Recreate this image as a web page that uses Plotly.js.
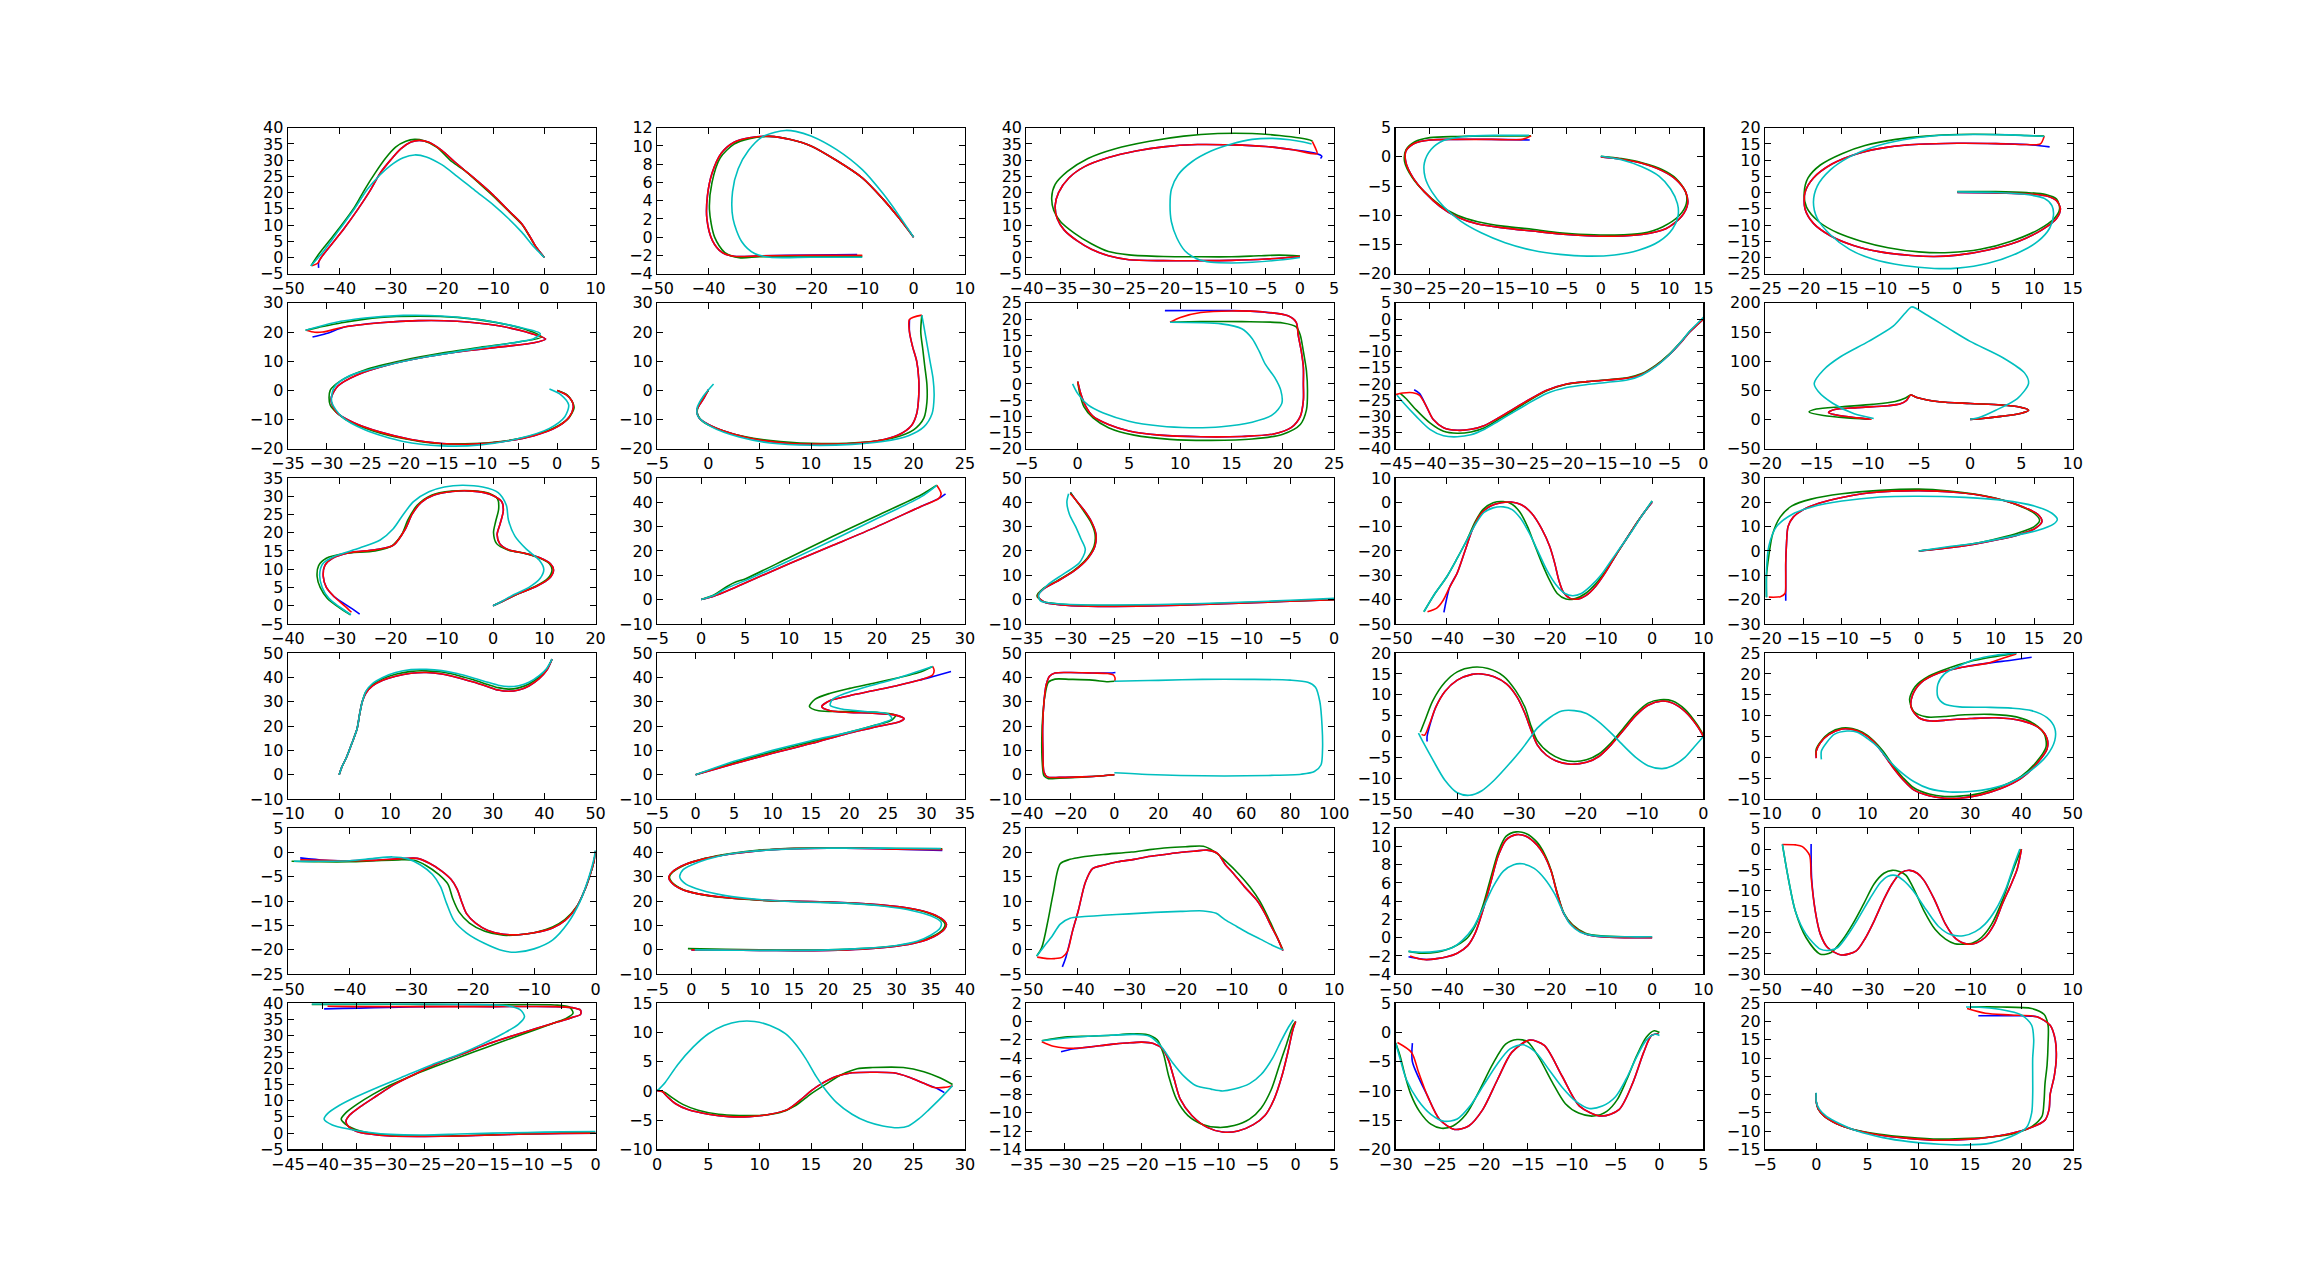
<!DOCTYPE html>
<html><head><meta charset="utf-8">
<script src="https://cdn.plot.ly/plotly-3.0.1.min.js"></script>
<style>html,body{margin:0;padding:0;background:#fff}#chart{width:2303px;height:1277px}</style>
</head><body><div id="chart"></div>
<script>
// ---- axis settings per panel (row-major, 6 rows x 5 cols) ----
const xRanges = [[-50,10],[-50,10],[-40,5],[-30,15],[-25,15],
                 [-35,5],[-5,25],[-5,25],[-45,0],[-20,10],
                 [-40,20],[-5,30],[-35,0],[-50,10],[-20,20],
                 [-10,50],[-5,35],[-40,100],[-50,0],[-10,50],
                 [-50,0],[-5,40],[-50,10],[-50,10],[-50,10],
                 [-45,0],[0,30],[-35,5],[-30,5],[-5,25]];
const yRanges = [[-5,40],[-4,12],[-5,40],[-20,5],[-25,20],
                 [-20,30],[-20,30],[-20,25],[-40,5],[-50,200],
                 [-5,35],[-10,50],[-10,50],[-50,10],[-30,30],
                 [-10,50],[-10,50],[-10,50],[-15,20],[-10,25],
                 [-25,5],[-10,50],[-5,25],[-4,12],[-30,5],
                 [-5,40],[-10,15],[-14,2],[-20,5],[-15,25]];
const xDticks = [10,10,5,5,5, 5,5,5,5,5, 10,5,5,10,5, 10,5,20,10,10, 10,5,10,10,10, 5,5,5,5,5];
const yDticks = [5,2,5,5,5, 10,10,5,5,50, 5,10,10,10,10, 10,10,10,5,5, 5,10,5,2,5, 5,5,2,5,5];

// ---- series: b = blue, g = green, r = red, c = cyan ; points [x, y] ----
const p01r = [[-45.3,-2.6],[-44.2,-1.8],[-43.5,0],[-41.5,4],[-39,9],[-36.5,14.5],[-34,20.5],[-32,26],[-30,30],[-28,33.5],[-26,35.6],[-24.4,36.1],[-22.5,35.5],[-20,33],[-17.5,29.5],[-15.5,26.8],[-13,23.5],[-10,19.3],[-7,14.5],[-4.4,10.4],[-3,7],[-1.6,3.2],[0,0]];
const p01b = [[-44,-3.2],[-44,-1.5],[-43.5,0], ...p01r.slice(3)];
const p01g = [[-45.5,-2.6],[-44,1],[-42,5],[-40,9],[-37,15.5],[-35,21],[-33,26],[-31,30.5],[-29,34],[-27,35.8],[-25.3,36.4],[-23.5,36],[-21,34],[-18,29.5],[-15.5,26.8],[-13,23.3],[-10,19],[-7,14.3],[-4.4,10.2],[-3,6.8],[-1.6,3.1],[0,0]];
const p01c = [[-45.5,-2.6],[-43,2],[-40,8.5],[-37,15],[-34.5,21],[-32,25.5],[-30,28.3],[-27.5,30.7],[-25.3,31.6],[-23,31],[-20,28.6],[-17,25],[-13.5,20.6],[-10,16.3],[-7,12],[-4.4,7.8],[-2,3.2],[0,0]];

const p02r = [[-10,-2.0],[-20,-2.0],[-30,-2.05],[-35,-2.1],[-37.3,-1.7],[-39.2,-0.4],[-40.3,2],[-40.2,4.5],[-39.3,7],[-37.5,9.2],[-35,10.4],[-32,10.9],[-28,11.05],[-24,10.7],[-20,10.0],[-15,8.4],[-10,6.5],[-6,4.2],[-3,2.2],[0,0]];
const p02b = [[-11,-1.9],[-20,-1.95], ...p02r.slice(2)];
const p02g = [[-10,-2.1],[-20,-2.1],[-30,-2.15],[-34,-2.25],[-36.8,-1.7],[-38.8,0],[-39.8,3],[-39.3,6],[-37.7,8.7],[-35,10.2],[-32,10.8],[-28,11.05],[-24,10.7],[-20,10.0],[-15,8.4],[-10,6.5],[-6,4.2],[-3,2.2],[0,0]];
const p02c = [[-10,-2.2],[-20,-2.2],[-28,-2.2],[-31,-1.8],[-33.5,-0.5],[-35.2,2],[-35.3,5],[-34.2,7.5],[-32.2,9.5],[-29.5,11],[-27,11.5],[-25,11.7],[-23,11.6],[-20,11.1],[-15,9.6],[-10,7.4],[-6,4.8],[-3,2.5],[0,0]];

const p03r = [[0,0.3],[-5,-0.5],[-10,-0.9],[-15,-1.0],[-20,-1.0],[-25,-0.7],[-28,0.5],[-30.5,2.5],[-32.5,5],[-34.5,8.5],[-35.5,12],[-35.8,16],[-35.3,20],[-33.8,24.5],[-31.5,28],[-28,30.8],[-24,32.8],[-20,34.1],[-15,34.8],[-10,34.7],[-5,34.2],[-1,33.2],[2.5,32],[2.2,34],[1.8,35.8]];
const p03b = [...p03r.slice(0,22),[2.5,32],[3.2,31.2],[3.0,30.5]];
const p03g = [[0,0.4],[-3,0.7],[-6,0.5],[-10,0.2],[-15,0.2],[-20,0.3],[-25,0.8],[-28,1.8],[-30.5,4.2],[-33,7.5],[-35,11],[-36,14.5],[-36.3,18.5],[-35.8,22.5],[-34,26.5],[-31,30.5],[-27,33.5],[-22,35.8],[-17,37.4],[-12,38.2],[-7,38.2],[-3,37.6],[0,36.8],[1.7,36],[1.8,35.8]];
const p03c = [[0,0],[-3,-0.8],[-7,-1.5],[-10,-1.7],[-13,-1.5],[-15,-0.5],[-16.8,2],[-18,6],[-18.8,11],[-19,16],[-18.8,21],[-17.8,25.5],[-15.8,29.5],[-13,32.8],[-10,35],[-7,36.4],[-4,36.7],[-1.5,36.3],[0.5,35.6],[1.7,35]];

const p04r = [[0,0],[3,-0.4],[6,-1.1],[9,-2.4],[11,-3.9],[12.4,-6],[12.7,-8],[11.8,-10.2],[9.5,-12.3],[6,-13.3],[2,-13.6],[-2,-13.5],[-6,-13.2],[-10,-12.7],[-14,-12.2],[-18,-11.5],[-21,-10.3],[-23.5,-8.5],[-25.8,-6],[-27.5,-3.5],[-28.5,-1],[-28.5,1],[-27.3,2.3],[-25,2.9],[-21,3.0],[-16,3.0],[-11.5,3.0],[-10.2,3.6]];
const p04b = [...p04r.slice(0,26),[-10.4,2.9]];
const p04g = [[0,0.1],[3,-0.3],[6,-1],[9,-2.2],[11,-3.7],[12.4,-6],[12.5,-8],[11.5,-10],[9,-12],[6,-13.1],[2,-13.4],[-2,-13.3],[-6,-13],[-10,-12.4],[-14,-11.9],[-18,-11.1],[-21,-10],[-23.5,-8.3],[-25.8,-6],[-27.6,-3.5],[-28.7,-0.8],[-28.5,1.2],[-27.2,2.6],[-25,3.3],[-21,3.5],[-16,3.6],[-12,3.6],[-10.2,3.6]];
const p04c = [[0,0.1],[3,-0.5],[6,-1.7],[8.5,-3.3],[10.2,-5.5],[11.2,-8],[11.3,-10],[10.5,-12.3],[8.5,-14.5],[5.5,-16],[2,-16.8],[-2,-17],[-6,-16.7],[-10,-16],[-14,-14.7],[-17.5,-13],[-20.5,-11],[-23,-8.5],[-24.7,-6],[-25.7,-3.5],[-25.8,-1],[-24.8,1.3],[-23,2.8],[-20,3.5],[-15,3.7],[-10.5,3.7]];

const p05r = [[0,0],[5,-0.1],[9,-0.4],[11.5,-1],[12.9,-2.5],[13.4,-5],[12.9,-8],[11,-11.5],[8,-15],[4,-17.7],[0,-19.3],[-3,-19.7],[-6,-19.4],[-10,-18.3],[-13.5,-16.3],[-16.5,-13.3],[-18.7,-9.5],[-19.8,-5],[-19.8,0],[-18.7,4.5],[-16.3,8.8],[-13,12],[-9,14],[-5,14.9],[0,15.2],[5,15.1],[9,14.8],[10.8,15],[11.3,17.4]];
const p05b = [...p05r.slice(0,27),[12,14.1]];
const p05g = [[0,0.3],[5,0.3],[9,0],[11.5,-0.6],[12.9,-2],[13.3,-5],[12.6,-8],[10.5,-11.5],[7,-15],[3,-17.5],[-1,-18.5],[-5,-18.3],[-9,-17],[-12.5,-15],[-15.5,-12.5],[-18,-9],[-19.6,-4.5],[-19.9,0],[-19.4,4.5],[-17.8,8.5],[-15,12],[-12,14.5],[-8,16.4],[-4,17.4],[0,17.9],[5,17.9],[9,17.6],[11.3,17.4]];
const p05c = [[0,0.2],[5,0],[9,-0.6],[11.3,-1.8],[12.3,-4],[12.5,-7],[12,-11],[10.5,-15],[8,-18.5],[4,-21.8],[0,-23.3],[-3,-23.4],[-7,-22.5],[-11,-20.5],[-14,-17.5],[-16.5,-13],[-18.2,-8],[-18.7,-3],[-18.2,2],[-16.5,7],[-14,11],[-11,14],[-7,16.3],[-3,17.5],[2,17.9],[7,17.8],[11.3,17.3]];

const p06r = [[0,0],[1.2,-1.5],[1.9,-3.5],[2.1,-5.8],[1.6,-9],[0,-12.5],[-3,-15.5],[-7,-17.5],[-11,-18.4],[-15,-18.2],[-19,-16.8],[-23,-14.3],[-26.5,-11],[-28.7,-7.5],[-29.4,-3],[-28.5,1.5],[-26,5.3],[-22,8.7],[-17,11.5],[-12,13.5],[-7,15],[-3,16.3],[-1.5,17.6],[-4,20],[-8,22.3],[-13,23.7],[-18,23.9],[-23,23.2],[-27.5,21.8],[-30.5,20],[-31.5,19.9],[-32.6,20.6]];
const p06b = [...p06r.slice(0,29),[-30,19.5],[-31.8,18.3]];
const p06g = [[0,0],[1.3,-1.5],[2,-4],[2.2,-6],[1.5,-9.5],[-0.5,-13],[-4,-16],[-8,-17.7],[-12,-18.3],[-16,-18.1],[-20,-16.5],[-24,-13.8],[-27.5,-10],[-29.5,-5],[-29.5,0],[-28,3.5],[-25,7],[-20,10.3],[-15,12.8],[-10,14.8],[-5,16.6],[-2,18.3],[-4,20.8],[-8,23.3],[-13,25],[-18,25.4],[-23,25],[-28,23.2],[-31,21.6],[-32.7,20.6]];
const p06c = [[-1,0.5],[0.5,-1.5],[1.5,-5],[1,-9],[-1,-13],[-5,-16.5],[-10,-18.7],[-15,-19],[-20,-17.5],[-25,-13.5],[-28,-9],[-29.3,-4],[-29,1],[-27,5],[-22,8.7],[-17,11.5],[-12,13.7],[-7,15.8],[-3,17.8],[-2.2,19.5],[-5,21.7],[-10,24.2],[-15,25.5],[-20,25.7],[-25,24.8],[-29,23.2],[-32.7,20.6]];

const p07r = [[0,0.3],[-0.5,-3],[-1.1,-6.5],[-0.9,-9.5],[0.5,-12.5],[2.5,-15],[5,-17],[8,-18.2],[11,-18.4],[14,-18.2],[16.5,-17.3],[18.5,-15.3],[19.8,-12],[20.3,-8],[20.5,-2],[20.5,4],[20.3,10],[19.9,15],[19.6,20],[19.6,24.3],[20.8,25.8]];
const p07b = p07r.slice(0,20);
const p07g = [[0,0],[-0.8,-4],[-1.1,-7.5],[-0.6,-10.5],[1,-13.3],[3.5,-15.8],[7,-17.5],[11,-18.2],[15,-17.8],[18,-16.3],[20,-13.5],[21,-9.5],[21.3,-4],[21.3,2],[21.1,8],[20.9,14],[20.7,20],[20.8,25.8]];
const p07c = [[0.5,2.2],[-0.5,-2],[-1.1,-6],[-1,-9],[0.3,-12.5],[3,-16],[6,-18],[10,-18.8],[14,-18.5],[17,-17.5],[19.5,-15.5],[21,-12.5],[21.8,-8],[22,-2],[21.9,4],[21.6,10],[21.3,16],[21,22],[20.8,25.8]];

const p08r = [[0,0.7],[0.3,-3],[0.8,-7],[1.5,-10],[3,-12.5],[5,-14.5],[8,-15.8],[12,-16.3],[16,-16.2],[19,-15.5],[20.8,-13.5],[21.7,-10],[22,-5],[22,0],[22,5],[21.8,10],[21.5,15],[21.3,19],[20.5,21],[18,22.2],[15,22.5],[12,22],[10,20.5],[9,19]];
const p08b = [...p08r.slice(0,20),[15,22.6],[8.5,22.6]];
const p08g = [[0,0.7],[0.2,-3],[0.6,-7],[1.5,-10.5],[3,-13.5],[5.5,-15.8],[9,-17.1],[13,-17.4],[17,-17],[20,-15.5],[21.7,-12.5],[22.3,-8],[22.4,-2],[22.3,4],[22,10],[21.7,15],[21.3,17.6],[20,18.8],[16,19.2],[12,19.2],[9,19]];
const p08c = [[-0.5,0],[0,-3],[1,-6.5],[2.5,-9],[5,-11.5],[8,-13],[11,-13.5],[14,-13.2],[17,-11.8],[19,-9.5],[19.9,-6],[19.8,-2],[19.2,2],[18.3,6],[17.7,10],[17,14],[16,17],[14,18.5],[9,19]];

const p09r = [[0,0],[-1,-2],[-2,-4],[-3,-6.5],[-5,-11],[-7,-14.5],[-9,-17],[-11,-18.2],[-14,-18.8],[-17,-19.3],[-20,-20],[-23,-22],[-26,-25.5],[-28,-28],[-30,-30.5],[-32,-32.8],[-34,-34],[-36,-34.3],[-38,-33.5],[-39.5,-31],[-40.5,-27],[-41.5,-23.5],[-42.5,-22.7],[-44,-22.8],[-45,-23.3]];
const p09b = [...p09r.slice(0,21),[-41.5,-23],[-42.3,-21.8]];
const p09g = [[0,0.2],[-1,-1.8],[-2,-3.8],[-3,-6.3],[-5,-10.8],[-7,-14.3],[-9,-16.8],[-11,-18],[-14,-18.7],[-17,-19.3],[-20,-20.1],[-23,-22.2],[-26,-25.8],[-28,-28.5],[-30,-31],[-32,-33.5],[-34,-34.8],[-36,-35.2],[-38,-34.6],[-40,-32],[-42,-28],[-43.5,-24.5],[-44.3,-23]];
const p09c = [[0,0.5],[-1,-1.6],[-2,-3.7],[-3,-6.3],[-5,-11],[-7,-14.7],[-9,-17.3],[-11,-18.7],[-14,-19.5],[-17,-20.2],[-20,-21.1],[-23,-23],[-26,-26.5],[-28,-29],[-30,-31.5],[-32,-34],[-34,-35.7],[-36,-36.3],[-38,-36],[-40,-34],[-42,-30],[-44,-25.5],[-44.8,-23.5]];

const p10r = [[-9.6,0.5],[-11,3],[-12.8,7],[-13.8,12],[-13.3,17],[-11,20.5],[-8,23.7],[-6.8,27],[-6.2,33],[-5.8,42],[-5.2,38],[-3,30.6],[0,27.5],[3,25],[4.8,21.5],[5.7,16],[5,11],[3,5.5],[1,1.5],[0,0.3]];
const p10b = [[-9.8,0.8], ...p10r.slice(1)];
const p10g = [[-10,1],[-12,3],[-14.3,7],[-15.7,13],[-15,18],[-12.5,22],[-9.5,26],[-7.3,31],[-6.3,37],[-5.8,42],[-5.2,38],[-3,30.6],[0,27.5],[3,25],[4.8,21.5],[5.7,16],[5,11],[3,5.5],[1,1.5],[0,0.3]];
const p10c = [[-9.4,2],[-11.3,10],[-13.4,28],[-14.8,48],[-15.2,62],[-14.3,85],[-12.6,108],[-9.9,134],[-7.5,160],[-6.3,183],[-5.7,193],[-4.3,180],[-2,155],[0,134],[3.2,106],[5.3,80],[5.7,62],[4.6,36],[2.5,16],[0.8,3],[0,0.5]];

const p11r = [[-27.6,-1.8],[-29,0],[-31,2.5],[-32.5,5],[-33.1,8],[-32.8,11],[-31.3,13],[-28,14.5],[-23,15.3],[-19.4,16.6],[-17.1,21],[-15.8,25],[-14,28.3],[-11.5,30.3],[-8,31.3],[-4,31.4],[-0.5,30.5],[1.7,28.5],[2,26],[1.4,22.5],[0.8,19.5],[1.3,17],[3,15.3],[6,14.4],[9,13.2],[11.2,11.5],[11.8,9.8],[11,7.5],[8.5,5.3],[5,3.3],[2,1.3],[0,0]];
const p11b = [[-26,-2.3],[-27.5,-0.8], ...p11r.slice(2)];
const p11g = [[-27.8,-2.5],[-30,-0.5],[-32.3,2],[-33.7,5],[-34.3,8],[-34,11],[-32.5,13],[-29,14.3],[-23,15],[-19.8,16.3],[-17.8,19.5],[-16.6,23.5],[-14.8,27.5],[-12,30.3],[-8,31.4],[-4,31.5],[-0.8,30.8],[0.9,29.2],[1.1,26.5],[0.5,23],[0.1,20],[0.7,17],[2.8,15.3],[6,14.4],[9,13.1],[11,11.5],[11.5,9.8],[10.7,7.5],[8.3,5.3],[5,3.3],[2,1.3],[0,0]];
const p11c = [[-27.7,-2.5],[-30,-0.3],[-32,2],[-33.3,5],[-33.8,8.5],[-33.2,11.5],[-31,13.5],[-26,15.8],[-22,18],[-19.5,21],[-17.5,25],[-15.5,28.5],[-12.5,31.2],[-9.5,32.5],[-6,33],[-2,32.5],[1,31],[2.6,27.5],[3,23.5],[4.3,19],[6.5,15.5],[9,12.5],[9.9,10],[9.2,7.5],[7,5],[4,3],[1.5,1],[0,0]];

const p12r = [[0,0],[1.5,1.5],[3,3.6],[5,6.8],[10,14.7],[15,22.3],[20,30],[25,38.3],[27,41.5],[27.3,43.5],[26.8,47]];
const p12b = [...p12r.slice(0,9),[27.8,43.5]];
const p12g = [[0,0],[1.5,2],[3,5.5],[4,7.3],[5,8.5],[10,17.2],[15,26],[20,34.5],[25,43],[26.8,47]];
const p12c = [[0,0],[1.5,1.8],[3,4.8],[5,7.8],[10,16],[15,24.5],[20,33.3],[25,42.2],[26.8,47]];

const p13r = [[-30,43.5],[-29.4,41],[-28.5,37],[-27.6,32],[-27.1,27],[-27.2,22],[-28,17],[-29.5,12],[-31.5,7.5],[-33,4.5],[-33.7,1.5],[-33,-1],[-31,-2.2],[-28,-2.7],[-25,-2.8],[-20,-2.5],[-15,-2],[-10,-1.4],[-5,-0.7],[0,0]];
const p13b = [[-30,44], ...p13r.slice(1)];
const p13g = [[-30,44],[-29.4,41],[-28.6,37],[-27.7,32],[-27.2,27],[-27.3,22],[-28.1,17],[-29.6,12],[-31.6,7.5],[-33.1,4.5],[-33.8,1.5],[-33.1,-0.8],[-31,-1.9],[-28,-2.4],[-25,-2.5],[-20,-2.3],[-15,-1.8],[-10,-1.2],[-5,-0.6],[0,0]];
const p13c = [[-30.2,43.5],[-30.4,40],[-30.1,35],[-29.4,30],[-28.8,25],[-28.3,20.5],[-29,15],[-30.8,10.5],[-32.6,6],[-33.6,2],[-33.4,-0.5],[-32,-1.5],[-28,-2.2],[-25,-2.2],[-20,-2],[-15,-1.6],[-10,-1],[-5,-0.3],[0,0.5]];

const p14r = [[-43.8,-45],[-42,-43.5],[-40.8,-40.5],[-39.5,-35],[-38,-29],[-36.5,-20],[-35,-11],[-33.5,-5],[-31.5,-1.5],[-29.5,-0.2],[-27.5,0.1],[-25.5,-1],[-23.5,-4.5],[-21.5,-11],[-20,-18],[-19,-25],[-18.2,-32],[-17.3,-37],[-16,-39.5],[-14.5,-39.8],[-13,-38.5],[-11,-34.5],[-9,-28.5],[-7,-21.5],[-5,-15],[-3,-8.5],[-1.5,-4],[0,0]];
const p14b = [[-40.6,-45.3],[-40.2,-41], ...p14r.slice(3)];
const p14g = [[-44.5,-45],[-42.5,-38],[-40,-30.5],[-38,-23],[-36,-15],[-34.5,-8],[-33,-3],[-31,-0.2],[-29,0.3],[-27.3,-0.8],[-25.8,-4],[-24.3,-10],[-23,-17],[-21.5,-25],[-20,-32],[-18.5,-37.5],[-16.8,-39.8],[-15,-39.6],[-13,-37.5],[-11,-33.5],[-9,-28],[-7,-21.5],[-5,-15],[-3,-8.5],[-1.5,-4],[0,0.5]];
const p14c = [[-44.5,-45],[-42.5,-38],[-40,-30.5],[-38,-23],[-36,-15],[-34.3,-8.5],[-32.8,-4.2],[-31,-2.3],[-29,-1.9],[-27.3,-3],[-25.7,-6.5],[-24,-12.5],[-22.3,-20],[-20.5,-28],[-18.7,-34],[-17,-37.5],[-15.5,-38.4],[-13.8,-37.5],[-12,-34.5],[-10,-30],[-8,-24],[-6,-18],[-4,-12],[-2,-5.5],[0,0.5]];

const p15r = [[0,0],[4,1.3],[7.2,2.8],[10.5,4.8],[12.8,6.5],[15,9],[16,12],[15.5,15],[14,17.5],[11.5,20.3],[9,22.3],[5,24],[0,24.8],[-6.6,23.8],[-10,22],[-13,19.6],[-15,17],[-16.3,14],[-17,10],[-17.2,3],[-17.3,-5],[-17.3,-12],[-17.4,-17.5],[-18,-18.8],[-19.5,-19]];
const p15b = [...p15r.slice(0,22),[-17.3,-20.5]];
const p15g = [[0,0],[4,1.5],[7.2,3],[10.5,5.3],[13,7.5],[15,10],[15.7,12.5],[15,15.5],[13.5,18],[11,20.8],[8,23],[4,24.6],[0,25.4],[-5,24.9],[-10,23.5],[-14,21.3],[-16.5,18.5],[-18,14],[-19,7],[-19.5,-2],[-19.8,-10],[-19.8,-19]];
const p15c = [[0,0],[4,1.8],[8,3.5],[12,6],[15.5,8.5],[17.5,11],[18,13],[17.3,15.5],[15,18.5],[11,20.8],[6,22],[0,22.5],[-5,22.2],[-10,20.5],[-14,18],[-16.5,15],[-18.5,10],[-19.5,2],[-19.8,-8],[-19.8,-19]];

const p16r = [[0,0],[0.5,3],[1.5,7.5],[2.5,13],[3.5,19],[4,25],[4.5,30],[5.2,33.5],[6.5,36.5],[8.5,38.8],[11,40.5],[14,41.7],[17,42],[20,41.4],[23,40],[26,38.2],[29,36.2],[31,34.8],[33,34.3],[35,34.8],[37,36.5],[39,39.5],[40.5,43],[41.5,47.5]];
const p16b = [...p16r];
const p16g = [[0,0],[0.5,3],[1.5,7.5],[2.5,13],[3.5,19],[4,25],[4.5,30],[5.2,34],[6.5,37],[8.5,39.5],[11,41.3],[14,42.5],[17,42.7],[20,42.2],[23,40.9],[26,39.1],[29,37.1],[31,35.8],[33,35.2],[35,35.7],[37,37.3],[39,40.2],[40.5,43.5],[41.5,47.5]];
const p16c = [[0,0],[0.5,3],[1.5,7.5],[2.5,13],[3.5,19],[4,25],[4.5,30],[5.2,34.3],[6.5,37.5],[8.5,40],[11,42],[14,43.2],[17,43.3],[20,42.8],[23,41.6],[26,39.9],[29,38],[31,36.8],[33,36.2],[35,36.6],[37,38],[39,40.7],[40.5,43.8],[41.5,47.5]];

const p17r = [[0,0],[5,4.5],[10,8.8],[15,12.8],[20,17.2],[24,20],[26.5,21.8],[27.1,23],[26,24.5],[23,25.3],[20,25.6],[17.5,26.3],[16.4,28],[17.5,30.5],[20,32.5],[23,34.5],[26,36.5],[29,38.8],[30.8,41],[31,43],[30.8,44.5]];
const p17b = [...p17r.slice(0,18),[31,40.5],[33.2,42.4]];
const p17g = [[0,0],[5,5],[10,9.5],[15,13.5],[20,17.5],[23.5,20.5],[25.5,22.5],[26,24.5],[24,25.5],[20,26],[16,26.3],[14.8,28],[15.5,31],[17.5,33.5],[20,35.5],[23,37.5],[26.5,40],[29,42],[30.8,44.5]];
const p17c = [[0,0],[5,5.5],[10,10],[15,14],[20,17.5],[23.5,20.5],[25.5,23],[25,25],[22,26],[19,27],[17.5,28.5],[17.8,31],[19.5,33.5],[22,36],[25,38.5],[28,41.5],[30.8,44.5]];

const p18r = [[0,0],[-5,-0.4],[-15,-0.9],[-25,-1.1],[-30.5,-0.9],[-32,1],[-32.5,10],[-32.6,20],[-32,30],[-31,37],[-29.5,40.5],[-27,41.8],[-20,42],[-10,41.8],[-3,41.6],[-0.5,41],[0.3,39.8],[0.2,38.4]];
const p18b = [...p18r.slice(0,14),[-1,41.8],[0.5,42]];
const p18g = [[0,0],[-5,-0.4],[-15,-1.0],[-25,-1.4],[-30,-1.6],[-32,-0.5],[-32.8,5],[-33,15],[-32.5,25],[-31.5,33],[-30,38],[-27,39.3],[-20,39.2],[-10,38.9],[-3,38.2],[0,38.4]];
const p18c = [[0,38.4],[10,38.6],[20,38.8],[40,39.2],[60,39.2],[80,38.9],[88,38],[91.5,36],[93.5,30],[94.5,20],[94.7,10],[94,4],[91,1.3],[85,0.2],[70,-0.3],[50,-0.5],[30,-0.3],[15,0.1],[0,0.8]];

const p19r = [[0,0],[-1,2.5],[-3,6],[-5,8],[-6.7,8.5],[-9,7.5],[-11,5],[-13,1.5],[-15,-2],[-17,-4.8],[-19,-6.2],[-21.9,-6.6],[-24,-5.8],[-25.5,-4.5],[-27,-2],[-28,1.5],[-29,5.5],[-30.3,9.5],[-32,12.6],[-34,14.3],[-36,15],[-37.6,14.9],[-40,13.5],[-42,10.8],[-43.5,7],[-44.5,3],[-45.3,0.3],[-45.8,0.5]];
const p19b = [...p19r.slice(0,25),[-44.4,3],[-44.9,0],[-44.9,-1.2]];
const p19g = [[0,0.3],[-1,2.8],[-3,6.5],[-5,8.5],[-7,8.8],[-9,8],[-11,5.5],[-13,2],[-15,-1.5],[-17,-4.2],[-19,-5.6],[-21,-6],[-23,-5.5],[-25,-4],[-27,-1],[-28,2.5],[-29,7],[-30.5,11],[-32.5,14.5],[-35,16.3],[-37.5,16.6],[-40,15.5],[-42,13],[-44,8.5],[-45.2,4],[-46,1]];
const p19c = [[0,0],[-1.5,-2.5],[-3,-5],[-5,-7],[-6.7,-7.7],[-9,-7],[-11,-5],[-13,-2.2],[-15,0.8],[-17,3.5],[-19,5.5],[-21,6.2],[-23,6.1],[-25,4.5],[-27,2],[-28,0],[-29.5,-3],[-31.5,-6.5],[-34,-10.5],[-36,-13],[-38,-14.1],[-40,-13.5],[-42,-10.5],[-44,-5.5],[-45.5,-1.5],[-46.3,0.8]];

const p20r = [[0,-0.2],[0,1.5],[0.8,3.5],[2.5,5.5],[5,6.8],[7,6.7],[9,5.8],[11,4],[13,1],[15,-2.5],[17,-5.5],[19,-7.8],[22,-9.2],[25,-9.8],[28,-9.8],[32,-9],[36,-7.5],[40,-5],[43,-1.5],[45,2],[45,4.5],[43.5,7],[40,8.8],[35,9.5],[30,9.3],[26,9],[22.5,8.7],[20,9.5],[18.5,12],[18.8,15],[20.5,18],[24,20.3],[28,21.5],[33.5,22.6],[37,24],[39,24.8]];
const p20b = [...p20r.slice(0,34),[38,23.3],[42,24]];
const p20g = [[0,0.5],[0,2],[1,4],[2.5,5.8],[5,7],[7,6.9],[9,6],[11,4.2],[13,1.5],[15,-2],[17,-5],[19,-7.3],[22,-8.8],[25,-9.4],[28,-9.3],[32,-8.6],[36,-7],[40,-4.5],[43,-1],[44.8,2.5],[44.5,5.5],[42.5,8],[39,9.7],[34,10.3],[29,10.2],[25,9.8],[21.5,9.7],[19,11],[18.2,14],[19.3,17],[22,19.5],[26,21.5],[30,23],[34,24],[39,25]];
const p20c = [[1,-0.5],[1,1.5],[2,3.5],[3.5,5.5],[6,6.3],[8,6],[10,4.5],[12,2.5],[14,-0.5],[16,-3],[19,-5.8],[22,-7.5],[26,-8.3],[30,-8.2],[34,-7.5],[38,-6],[42,-3],[45,0.5],[46.5,4],[46.5,7],[45,9.5],[42,11.2],[38,11.8],[33,12],[28,12.1],[25,12.8],[23.7,14.5],[23.7,17.5],[25,20],[28,22],[31,23.5],[35,24.5],[39,25]];

const p21r = [[-48,-1.5],[-44,-1.6],[-40,-1.7],[-36,-1.6],[-32,-1.3],[-29,-1.2],[-27,-2.2],[-25,-3.8],[-23.5,-5.5],[-22.5,-7.5],[-21.8,-10],[-21,-12.5],[-19.5,-14.5],[-17.5,-16],[-15,-16.8],[-12.5,-16.9],[-10,-16.5],[-7,-15.5],[-5,-14],[-3,-11],[-1.8,-7.8],[-1,-5],[-0.3,-2],[0,0.3]];
const p21b = [[-48,-1.1], ...p21r.slice(1)];
const p21g = [[-49.4,-1.8],[-45,-1.9],[-40,-1.9],[-36,-1.7],[-32,-1.5],[-29.5,-1.6],[-27.5,-2.7],[-25.5,-4.5],[-24,-6.5],[-23.2,-9.5],[-22.2,-12.2],[-20.5,-14.5],[-18,-16.2],[-15,-17],[-12.5,-16.9],[-10,-16.5],[-7,-15.3],[-5,-13.8],[-3,-11],[-1.8,-7.8],[-1,-5],[-0.3,-2],[0,0.3]];
const p21c = [[-49,-1.8],[-45,-1.8],[-40,-1.7],[-36,-1.2],[-33,-0.9],[-30.5,-1.3],[-28.5,-2.5],[-26.5,-4.5],[-25.2,-7],[-24.2,-10.5],[-23,-14],[-21,-16.5],[-18,-18.7],[-15,-20.2],[-13,-20.5],[-10,-19.8],[-7,-18],[-4.5,-14.5],[-2.5,-10],[-1.2,-5.5],[-0.4,-2],[0,0.5]];

const p22r = [[0,0],[5,0],[10,-0.2],[15,-0.3],[20,-0.2],[25,0.3],[30,1.5],[33,3],[35.5,5.5],[37,8.5],[37.3,10.5],[36.5,13],[34.5,15.5],[31,17.5],[26,18.8],[20,19.6],[15,20],[10,20.5],[5,21.5],[1,23],[-1.5,25],[-3,28],[-3.3,30],[-2.8,32],[-1,35],[2,37.5],[6,39.5],[10,40.8],[15,41.6],[20,41.8],[25,41.7],[30,41.4],[36.7,41.2]];
const p22b = [...p22r.slice(0,32),[36.7,40.9]];
const p22g = [[-0.5,0.5],[5,0.2],[10,0],[15,-0.1],[20,0],[25,0.5],[30,1.7],[33,3.2],[35.3,5.6],[36.8,8.5],[37.1,10.5],[36.3,13],[34.3,15.5],[30.8,17.4],[25.8,18.7],[20,19.5],[15,19.9],[10,20.4],[5,21.4],[1,23],[-1.4,25],[-2.9,28],[-3.2,30],[-2.7,32],[-0.9,35],[2,37.6],[6,39.7],[10,41],[15,41.8],[20,42],[25,41.9],[30,41.6],[36.7,41.5]];
const p22c = [[0.5,0],[5,-0.1],[10,-0.2],[15,-0.2],[20,0],[25,0.6],[30,1.8],[33,3.5],[35,6],[36.4,9],[36.5,11.5],[35,14],[32.5,16],[28,18],[22,19.3],[16,19.7],[10,20.7],[5,22.3],[1.5,24.5],[-0.8,27],[-1.7,30],[-1.2,33],[1,36],[4,38.5],[8,40.3],[13,41.3],[18,41.8],[25,41.8],[30,41.8],[36.5,41.6]];

const p23r = [[-47.9,-1.5],[-46,-1.8],[-44.5,-1.8],[-43,-1.5],[-42,-0.3],[-41,3.9],[-39.9,8],[-38.5,13.9],[-37.1,16.7],[-35,17.4],[-32.2,18.1],[-29,18.6],[-26.6,19.1],[-23,19.6],[-21,19.9],[-17,20.3],[-14.8,20.5],[-12.7,19.8],[-11.2,17.5],[-9.9,16],[-7.5,13],[-5,10.1],[-3.5,7.5],[-2.3,4.9],[-1,2.3],[0,-0.2]];
const p23b = [[-43,-3.5],[-42.3,-1.5], ...p23r.slice(5)];
const p23g = [[-48,-1.3],[-47,0.5],[-45.8,6],[-44.8,11.5],[-43.4,17.7],[-41.5,18.6],[-39.2,19.1],[-35,19.6],[-29.5,20.1],[-26,20.6],[-22.5,21],[-19,21.2],[-15.5,21.3],[-13.5,20.3],[-11.3,18.4],[-8.5,15.5],[-6.4,12.9],[-4.5,10],[-2.9,6.7],[-1.5,3.5],[0,0]];
const p23c = [[-48,-1.3],[-46.5,0.8],[-45,2.8],[-43.4,5.3],[-41.5,6.5],[-39.2,6.8],[-35,7.1],[-30,7.4],[-25,7.7],[-20,7.9],[-15.5,8],[-13,7.5],[-11.3,6.2],[-9,4.8],[-6.5,3.3],[-4.4,2.2],[-2,0.9],[0,0]];

const p24r = [[-47.2,-2],[-45.5,-2.3],[-44,-2.4],[-42,-2.3],[-40,-2.1],[-38,-1.7],[-36,-0.9],[-34.5,0.5],[-33,3],[-31.5,6],[-30,9],[-28.5,10.7],[-26.5,11.3],[-24.5,11.1],[-22.5,10.2],[-21,9],[-19.7,7.3],[-18.5,4.8],[-17.2,2.6],[-15.5,1.3],[-13,0.4],[-10,0.1],[-5,0],[0,0]];
const p24b = [[-47.5,-2.1], ...p24r.slice(1)];
const p24g = [[-47.5,-1.5],[-45,-1.7],[-42,-1.6],[-40,-1.3],[-38,-0.8],[-36,0],[-34.5,1.3],[-33,3.5],[-31.5,6.5],[-30,9.4],[-28.5,11.1],[-26.5,11.6],[-24.5,11.4],[-22.5,10.5],[-21,9.2],[-19.7,7.4],[-18.5,4.9],[-17.2,2.7],[-15.5,1.4],[-13,0.5],[-10,0.2],[-5,0.1],[0,0.1]];
const p24c = [[-47.5,-1.5],[-45,-1.6],[-42,-1.5],[-39,-1.1],[-37,-0.3],[-35,1],[-33,3.2],[-31,5.6],[-29,7.3],[-27,8],[-25.3,8.1],[-23,7.6],[-21,6.5],[-19,4.8],[-17.5,3],[-16,1.5],[-14,0.6],[-11,0.2],[-5,0.1],[0,0.1]];

const p25r = [[-46.6,1.1],[-44,1],[-42.7,0.6],[-41.3,-1.5],[-41,-6.7],[-40.2,-14.8],[-39.2,-20.4],[-37.8,-23.6],[-35.1,-25.4],[-32.2,-24.4],[-30.5,-21.5],[-28.7,-17.2],[-26.8,-12],[-25.2,-8.3],[-23.5,-5.7],[-21.8,-5.1],[-20.3,-5.8],[-19,-7.5],[-17,-12],[-14.8,-18],[-12.8,-21.5],[-10.6,-22.8],[-8.8,-22.5],[-7.1,-21.2],[-5.3,-18],[-3.7,-13.1],[-2.2,-9],[-0.9,-5.1],[-0.3,-2],[0,0]];
const p25b = [[-41,1.2],[-41,-2],[-40.9,-7], ...p25r.slice(5)];
const p25g = [[-46.6,1.1],[-45.5,-6.7],[-44.1,-14.8],[-42,-21.2],[-39.2,-25.2],[-37.1,-24.8],[-35,-22],[-32.9,-18],[-30.7,-13],[-28.7,-8.3],[-26.8,-5.8],[-25.2,-5.1],[-23.8,-5.4],[-22.5,-6.3],[-20.8,-10],[-19,-14.8],[-16.8,-19.3],[-14.8,-21.6],[-13,-22.7],[-11.3,-22.8],[-9.5,-22.5],[-7.8,-21.2],[-5.8,-18],[-3.7,-12.3],[-2.2,-7],[-0.9,-2.7],[0,0]];
const p25c = [[-46.6,1.1],[-45.5,-6.7],[-44.1,-14.8],[-42,-20.4],[-39.2,-24],[-37.5,-24.3],[-35.8,-23.6],[-33.8,-20.5],[-31.7,-16.4],[-29.5,-11.8],[-27.4,-7.9],[-26,-6.5],[-24.6,-6.3],[-23,-7.5],[-21.1,-10],[-18.6,-14.5],[-16.2,-18.5],[-13.8,-20.5],[-11.3,-20.8],[-9,-19.8],[-7.1,-18],[-5,-14.5],[-2.9,-9.1],[-1.5,-4],[-0.3,0]];

const p26r = [[0,0],[-5,-0.1],[-10,-0.3],[-15,-0.6],[-20,-0.9],[-25,-1],[-30,-0.9],[-33,-0.3],[-35,0.6],[-36.2,2.2],[-36.5,3.7],[-36,5.5],[-34.5,8],[-32,11.5],[-29.6,14.8],[-26,18.6],[-22.6,21.9],[-19,24.8],[-15.6,27.6],[-12,30.1],[-8.6,32.3],[-5.5,34.3],[-3.5,35.6],[-2.2,36.6],[-2.2,37.9],[-3.5,38.7],[-6,39],[-15,39],[-25,39],[-35,39],[-39.2,39.1]];
const p26b = [...p26r.slice(0,29),[-39.7,38.3]];
const p26g = [[0,0.2],[-5,0],[-10,-0.2],[-15,-0.5],[-20,-0.8],[-25,-0.9],[-30,-0.7],[-33,0],[-35.2,1.2],[-36.6,2.8],[-37.2,4.3],[-36.5,6.3],[-34.8,9],[-32.5,12],[-30,14.8],[-26.5,18],[-23,20.9],[-19.5,23.7],[-16,26.4],[-12.5,29.1],[-9,31.7],[-6,34],[-4.2,35.5],[-3.3,37],[-3.8,38.8],[-6,39.5],[-15,39.6],[-25,39.7],[-35,39.7],[-41.5,39.7]];
const p26c = [[0,0.5],[-5,0.4],[-10,0.2],[-15,0],[-20,-0.3],[-25,-0.6],[-30,-0.4],[-33,0.2],[-36,1.2],[-38.5,2.5],[-39.7,4.3],[-39.2,6],[-37.5,8.5],[-35,11.2],[-32,14],[-28,17.5],[-24,21],[-20,24.2],[-16.5,27.5],[-13.5,30.7],[-11.3,33.5],[-10.4,35.9],[-11,38],[-13,39.3],[-18,39.7],[-25,39.8],[-35,39.8],[-41.5,39.8]];

const p27r = [[0,0],[0.5,-0.1],[1,-1],[1.8,-2.2],[3,-3.2],[5,-4],[7,-4.4],[9,-4.4],[11,-4],[12.7,-3.2],[14,-1.5],[15,0],[16,1.2],[17.5,2.5],[19,3.1],[21,3.2],[23,3.1],[24.5,2.4],[26,1.3],[27,0.6],[28,0.6],[28.8,0.9]];
const p27b = [...p27r.slice(0,19),[27.2,0.5],[28,-0.3]];
const p27g = [[0,0.2],[0.8,-0.3],[1.5,-1.2],[2.5,-2.3],[4,-3.3],[6,-4],[8,-4.2],[10,-4.2],[12,-3.7],[13.5,-2.5],[15,-0.5],[16.5,1.2],[18,2.8],[19.5,3.8],[21,4],[24,4],[26,3.3],[27.5,2.3],[28.8,1.1]];
const p27c = [[0,0],[0.8,1.5],[2,4.5],[3.5,7.5],[5,9.8],[6.5,11.2],[8,11.9],[9.5,11.9],[11,11.2],[12.5,9.8],[13.5,8],[14.5,5.5],[15.5,2.5],[16.5,0],[17.5,-2],[19,-4],[20.5,-5.3],[22,-6],[23.5,-6.3],[24.5,-6],[25.5,-4.8],[26.5,-3.2],[27.5,-1.5],[28.8,0.9]];

const p28r = [[-33,-2.2],[-31.5,-2.7],[-30,-2.9],[-28,-2.9],[-26,-2.7],[-24,-2.5],[-22,-2.35],[-20,-2.25],[-18.5,-2.4],[-17.3,-3],[-16.5,-4.3],[-15.8,-6.3],[-15,-8.5],[-13.5,-10.3],[-11.5,-11.6],[-9.5,-12.1],[-7.5,-12],[-5.5,-11.3],[-4,-10.3],[-2.8,-8.5],[-1.8,-6],[-1,-3.3],[-0.4,-1],[0,0]];
const p28b = [[-30.5,-3.3],[-29,-3], ...p28r.slice(3)];
const p28g = [[-33,-2.1],[-30,-1.7],[-27,-1.6],[-24,-1.5],[-21.5,-1.35],[-19.5,-1.4],[-18,-2],[-17.2,-3.5],[-16.5,-6],[-15.5,-8.5],[-14,-10.3],[-12,-11.3],[-10,-11.6],[-8,-11.4],[-6,-10.7],[-4.5,-9.5],[-3.2,-7.5],[-2.2,-5],[-1.2,-2.5],[-0.4,-0.5],[0,0]];
const p28c = [[-33,-2.1],[-30,-1.8],[-27,-1.6],[-24,-1.5],[-21,-1.4],[-19,-1.6],[-17.5,-2.7],[-16,-4.5],[-14.5,-6],[-13,-7],[-11,-7.4],[-9.5,-7.6],[-8,-7.4],[-6,-6.8],[-4.5,-5.8],[-3,-4],[-2,-2.3],[-1,-0.7],[-0.3,0.2]];

const p29r = [[-29.8,-1.7],[-28.2,-3.4],[-27.4,-6.8],[-26.4,-10.8],[-25,-14.9],[-23.3,-16.6],[-21.7,-16],[-20.1,-13.2],[-18.4,-8],[-16.8,-3.4],[-14.8,-1.3],[-13.1,-2.2],[-11.1,-7.4],[-9.1,-12.6],[-6.6,-14.3],[-4.6,-13.2],[-3,-8.5],[-1.8,-3.4],[-0.9,-0.5],[-0.1,-0.2]];
const p29b = [[-28.1,-1.8],[-28.1,-5], ...p29r.slice(3)];
const p29g = [[-30,-1.8],[-29.5,-4],[-29,-7],[-28.3,-10.5],[-27.3,-13.5],[-26,-15.7],[-24.8,-16.4],[-23.5,-16],[-22,-14],[-20.5,-10],[-19,-5.5],[-17.5,-2],[-16.2,-1.2],[-15,-1.6],[-13.7,-4.3],[-12.2,-8.5],[-10.7,-12.2],[-9.2,-13.8],[-7.5,-14.3],[-6,-13.5],[-4.8,-11.5],[-3.7,-8],[-2.6,-4],[-1.5,-0.8],[-0.6,0.3],[0,0]];
const p29c = [[-30,-1.8],[-29.5,-4.5],[-28.8,-8],[-27.5,-11.5],[-26,-14],[-24.5,-15.2],[-23,-14.8],[-21.5,-12.5],[-20,-9],[-18.5,-5.5],[-17,-2.8],[-15.5,-2.1],[-14,-3.5],[-12.5,-6.5],[-11,-9.5],[-9.5,-11.8],[-8,-13],[-6.5,-12.6],[-5,-11],[-3.8,-8],[-2.7,-4.5],[-1.5,-1.3],[-0.5,-0.3],[0,-0.5]];

const p30r = [[0,0.4],[0,-2],[0.2,-4],[0.8,-6],[2,-8],[3.5,-9.5],[6,-11],[9,-12],[12,-12.5],[15,-12.2],[18,-11.2],[20.5,-9.5],[22.3,-7],[22.7,-4],[22.8,0],[23.2,5],[23.4,10],[23.3,15],[22.8,19],[21.5,21.3],[19,21.8],[16.5,22.3],[14.7,23.6]];
const p30b = [...p30r.slice(0,20),[20,21.6],[15.8,21.6]];
const p30g = [[0,0.4],[0,-2],[0.2,-4],[0.8,-6],[2,-8],[3.5,-9.5],[6,-10.8],[9,-11.7],[12,-12.2],[15,-12],[17.5,-11.5],[19.5,-10.5],[21,-8.8],[22,-6],[22.2,-2],[22.3,3],[22.5,8],[22.6,14],[22.6,19],[22.2,22],[21,23.6],[18,24],[15,24]];
const p30c = [[0,0.5],[0,-2],[0.3,-4],[1,-6],[2.3,-8],[4,-10],[6.5,-11.8],[9,-12.9],[12,-13.6],[14.5,-13.8],[17,-13.3],[19,-11.5],[20.5,-9],[21,-5],[21.1,0],[21.1,5],[21.1,10],[21.2,15],[21,19],[20,21.8],[18,23.3],[15.5,24],[14.6,24]];

// ---- assemble ----
const panels = [
  [p01b,p01g,p01r,p01c],[p02b,p02g,p02r,p02c],[p03b,p03g,p03r,p03c],[p04b,p04g,p04r,p04c],[p05b,p05g,p05r,p05c],
  [p06b,p06g,p06r,p06c],[p07b,p07g,p07r,p07c],[p08b,p08g,p08r,p08c],[p09b,p09g,p09r,p09c],[p10b,p10g,p10r,p10c],
  [p11b,p11g,p11r,p11c],[p12b,p12g,p12r,p12c],[p13b,p13g,p13r,p13c],[p14b,p14g,p14r,p14c],[p15b,p15g,p15r,p15c],
  [p16b,p16g,p16r,p16c],[p17b,p17g,p17r,p17c],[p18b,p18g,p18r,p18c],[p19b,p19g,p19r,p19c],[p20b,p20g,p20r,p20c],
  [p21b,p21g,p21r,p21c],[p22b,p22g,p22r,p22c],[p23b,p23g,p23r,p23c],[p24b,p24g,p24r,p24c],[p25b,p25g,p25r,p25c],
  [p26b,p26g,p26r,p26c],[p27b,p27g,p27r,p27c],[p28b,p28g,p28r,p28c],[p29b,p29g,p29r,p29c],[p30b,p30g,p30r,p30c]
];
const lineColors = ['#0000ff','#008000','#ff0000','#00bfbf'];

const figW = 2303, figH = 1277;
const figL = 0.125, figR = 0.9, figB = 0.1, figT = 0.9, wSpace = 0.2, hSpace = 0.2;
const nCol = 5, nRow = 6;
const cellW = (figR-figL)/(nCol + (nCol-1)*wSpace);
const cellH = (figT-figB)/(nRow + (nRow-1)*hSpace);

const traces = [];
const layout = {
  width: figW, height: figH, showlegend: false,
  margin: {l:0, r:0, t:0, b:0, pad:0},
  paper_bgcolor: '#ffffff', plot_bgcolor: '#ffffff',
  font: {family: 'DejaVu Sans', size: 16, color: '#000'}
};
const axisBase = {
  ticks: 'inside', ticklen: 6, tickwidth: 1, tickcolor: '#000',
  showline: true, linecolor: '#000', linewidth: 1.2, mirror: 'allticks',
  showgrid: false, zeroline: false, tick0: 0, tickangle: 0,
  tickfont: {family: 'DejaVu Sans', size: 16, color: '#000'}
};

panels.forEach((series, i) => {
  const r = Math.floor(i / nCol), c = i % nCol;
  const n = i + 1;
  const xa = 'x' + (n === 1 ? '' : n), ya = 'y' + (n === 1 ? '' : n);
  const x0 = figL + c*cellW*(1+wSpace);
  const yTop = figT - r*cellH*(1+hSpace);
  layout['xaxis' + (n === 1 ? '' : n)] = Object.assign({}, axisBase, {
    domain: [x0, x0 + cellW], range: xRanges[i], dtick: xDticks[i], anchor: ya
  });
  layout['yaxis' + (n === 1 ? '' : n)] = Object.assign({}, axisBase, {
    domain: [yTop - cellH, yTop], range: yRanges[i], dtick: yDticks[i], anchor: xa
  });
  series.forEach((pts, k) => {
    traces.push({
      type: 'scatter', mode: 'lines', xaxis: xa, yaxis: ya,
      x: pts.map(p => p[0]), y: pts.map(p => p[1]),
      line: {color: lineColors[k], width: 1.6, shape: 'spline', smoothing: 0.8},
      hoverinfo: 'skip', cliponaxis: true
    });
  });
});

Plotly.newPlot('chart', traces, layout, {staticPlot: true, displayModeBar: false});
</script>
</body></html>
